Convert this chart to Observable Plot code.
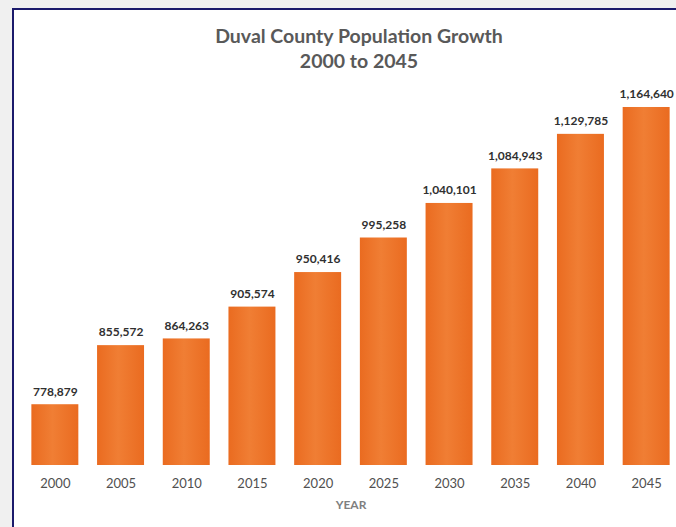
<!DOCTYPE html>
<html>
<head>
<meta charset="utf-8">
<script src="https://cdn.jsdelivr.net/npm/d3@7"></script>
<script src="https://cdn.jsdelivr.net/npm/@observablehq/plot@0.6"></script>
<style>
  html, body { margin: 0; padding: 0; }
  body { width: 676px; height: 527px; overflow: hidden; background: #f0f0f0; position: relative; font-family: Lato, "Open Sans", sans-serif; }
  #frame { position: absolute; left: 12px; top: 8px; width: 700px; height: 560px; border: 2px solid #1b1a6b; background: #ffffff; }
  #title { position: absolute; left: 0; top: 23px; width: 718px; text-align: center; color: #595959; font-weight: bold; font-size: 19.5px; line-height: 25px; }
  #chart { position: absolute; left: 0; top: 72px; width: 690px; }
  #chart svg { max-width: none !important; }
</style>
</head>
<body>
<div id="frame"></div>
<div id="title">Duval County Population Growth<br>2000 to 2045</div>
<div id="chart"></div>
<script>
const years = ["2000", "2005", "2010", "2015", "2020", "2025", "2030", "2035", "2040", "2045"];
const population = [778879, 855572, 864263, 905574, 950416, 995258, 1040101, 1084943, 1129785, 1164640];
const data = years.map((year, i) => ({year, population: population[i]}));

const plot = Plot.plot({
  width: 690,
  height: 455,
  marginLeft: 22,
  marginRight: 11,
  marginTop: 20,
  marginBottom: 62,
  style: {fontFamily: "Lato, 'Open Sans', sans-serif", background: "transparent", overflow: "visible"},
  x: {domain: years, paddingInner: 0.285, paddingOuter: 0.1425, round: false, label: null},
  y: {domain: [700000, 1184100], axis: null},
  marks: [
    Plot.barY(data, {x: "year", y1: 700000, y2: "population", fill: "url(#barGrad)"}),
    Plot.text(data, {x: "year", y: "population", text: d => d3.format(",")(d.population), dy: -13, fontSize: 12, fontWeight: "bold", fill: "#303030"}),
    Plot.axisX({tickSize: 0, tickPadding: 13, fontSize: 13, color: "#505050", label: null}),
    Plot.text(["YEAR"], {frameAnchor: "bottom", lineAnchor: "middle", dy: 40, fontSize: 12, fill: "#7f7f7f", fontWeight: "bold"})
  ]
});

const defs = d3.select(plot).insert("defs", ":first-child");
const grad = defs.append("linearGradient").attr("id", "barGrad").attr("x1", "0").attr("x2", "1").attr("y1", "0").attr("y2", "0");
grad.append("stop").attr("offset", "0%").attr("stop-color", "#ea6b20");
grad.append("stop").attr("offset", "45%").attr("stop-color", "#f07e34");
grad.append("stop").attr("offset", "100%").attr("stop-color", "#ea6b20");

document.getElementById("chart").appendChild(plot);
</script>
</body>
</html>
